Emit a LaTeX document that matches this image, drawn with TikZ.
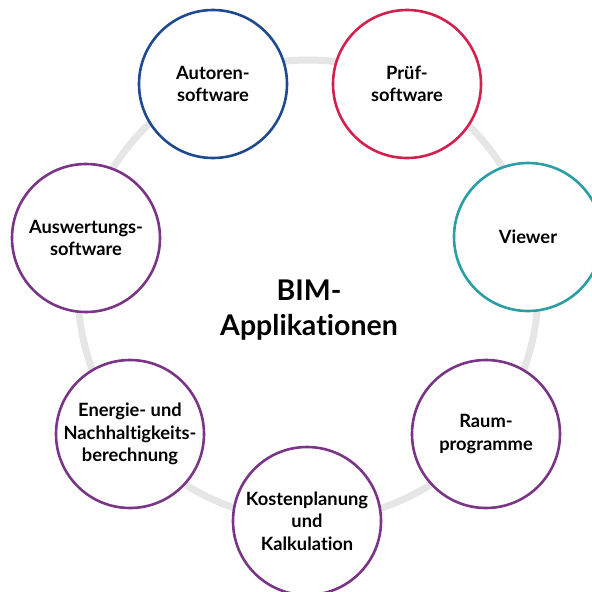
\documentclass[tikz,border=0pt]{standalone}
\usepackage{fontspec}
\setmainfont{Lato}[Ligatures=NoCommon]
\usetikzlibrary{positioning}

\definecolor{bimblau}{HTML}{1F4A8F}
\definecolor{bimrot}{HTML}{D4204E}
\definecolor{bimtuerkis}{HTML}{2A9DA5}
\definecolor{bimlila}{HTML}{7A3587}
\definecolor{ringgrau}{HTML}{E6E6E6}

\tikzset{
  app/.style={circle, draw=#1, line width=2.6pt, fill=white,
    minimum size=148pt, inner sep=0pt, align=center,
    font=\bfseries\fontsize{18.3}{22.5}\selectfont},
  ring/.style={draw=ringgrau, line width=7pt},
}

\begin{document}
\begin{tikzpicture}[x=1pt, y=-1pt]
    \useasboundingbox (0,0) rectangle (592,592);

    % Ring
    \coordinate (mitte) at (308,290);
    \draw[ring] (mitte) circle[radius=230];

    % Titel
    \node[font=\bfseries\fontsize{28.5}{35}\selectfont, align=center] (bim)
        at (309,310) {BIM-\\Applikationen};

    % Anwendungen
    \foreach \n/\px/\py/\c/\t in {
        autoren/213/84/bimblau/{Autoren-\\software},
        pruef/407/84/bimrot/{Prüf-\\software},
        viewer/528/237/bimtuerkis/{Viewer},
        raum/486/434/bimlila/{Raum-\\programme},
        kosten/307/521/bimlila/{Kostenplanung\\und\\Kalkulation},
        energie/130/434/bimlila/{Energie- und\\Nachhaltigkeits-\\berechnung},
        auswertung/86/238/bimlila/{Auswertungs-\\software}} {
        \node[app=\c] (\n) at (\px,\py) {\t};
    }

\end{tikzpicture}
\end{document}
